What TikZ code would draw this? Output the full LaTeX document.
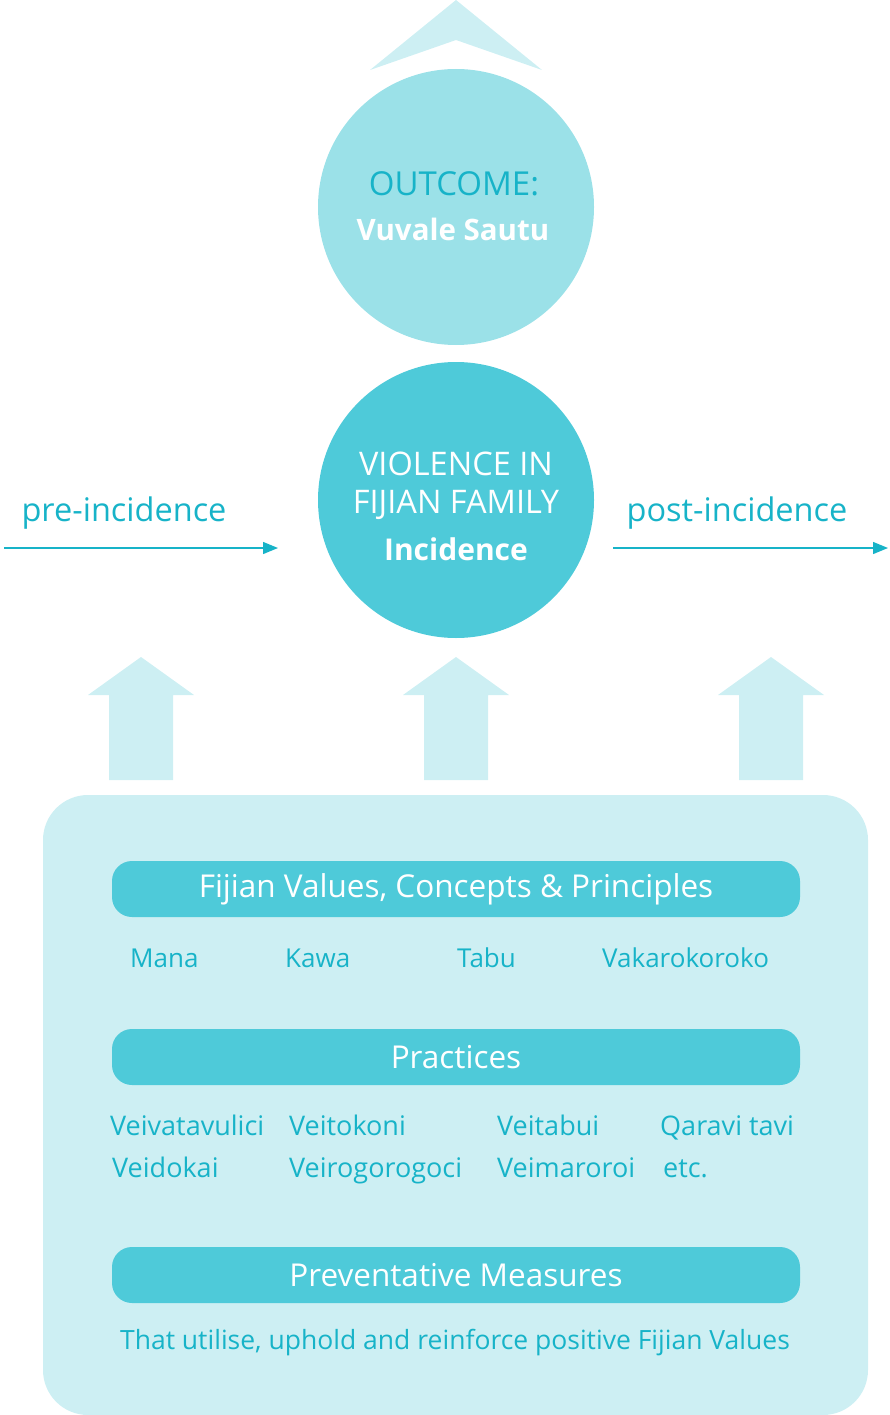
\documentclass[tikz,border=0pt]{standalone}
\usepackage{fontspec}
\setmainfont{Open Sans}
\usetikzlibrary{arrows.meta,positioning}
\definecolor{teal}{HTML}{17B3C8}
\definecolor{midblue}{HTML}{4ECAD9}
\definecolor{paleblue}{HTML}{9BE1E8}
\definecolor{lightblue}{HTML}{CDEFF3}

\begin{document}
\begin{tikzpicture}[x=1pt,y=-1pt,>={Triangle[length=15pt,width=12pt]}]
	\tikzset{every node/.style={font=\fontsize{27}{32}\selectfont}}
	\tikzset{bigcircle/.style={circle,minimum size=276pt,inner sep=0pt,align=center}}
	\tikzset{bar/.style={fill=midblue,rounded corners=20pt,minimum width=688pt,minimum height=56pt,text=white,font=\fontsize{31.5}{36}\selectfont}}
	\tikzset{word/.style={text=teal,anchor=base west,inner sep=0pt}}
	\tikzset{flow/.style={->,draw=teal,line width=1.3pt}}
	\useasboundingbox (0,0) rectangle (890,1415);
	% top chevron
	\fill[lightblue] (456,0) -- (542,70) -- (456,40) -- (370,70) -- cycle;
	\node[bigcircle,fill=paleblue] (outcome) at (456,207) {};
	\node[text=teal,font=\fontsize{33}{38}\selectfont] (outtitle) at (454,184) {OUTCOME:};
	\node[text=white,font=\fontsize{29.5}{34}\selectfont\bfseries] (outname) at (453,229) {Vuvale Sautu};
	\node[bigcircle,fill=midblue] (incid) at (456,500) {};
	\node[text=white,align=center,font=\fontsize{32.5}{38}\selectfont] (viol) at (456,486) {VIOLENCE IN\\FIJIAN FAMILY};
	\node[text=white,font=\fontsize{30}{34}\selectfont\bfseries] (incname) at (456,549) {Incidence};
	% pre and post
	\node[text=teal,font=\fontsize{32.5}{38}\selectfont] (pre) at (124,513) {pre-incidence};
	\node[text=teal,font=\fontsize{32.5}{38}\selectfont] (post) at (737,513) {post-incidence};
	\coordinate (preA) at (4,548);
	\coordinate (preB) at (278,548);
	\coordinate (postA) at (613,548);
	\coordinate (postB) at (888,548);
	\draw[flow] (preA) -- (preB);
	\draw[flow] (postA) -- (postB);
	% up arrows
	\foreach \cx in {141,456,771}
		\fill[lightblue] (\cx-32,780) -- (\cx-32,695) -- (\cx-53,695) -- (\cx,657) -- (\cx+53,695) -- (\cx+32,695) -- (\cx+32,780) -- cycle;
	% box
	\fill[lightblue,rounded corners=45pt] (43,795) rectangle (868,1415);
	\node[bar] (values) at (456,889) {Fijian Values, Concepts \& Principles};
	\node[word,font=\fontsize{26}{30}\selectfont] (mana) at (130,967) {Mana};
	\node[word,font=\fontsize{26}{30}\selectfont] (kawa) at (285,967) {Kawa};
	\node[word,font=\fontsize{26}{30}\selectfont] (tabu) at (457,967) {Tabu};
	\node[word,font=\fontsize{26}{30}\selectfont] (vaka) at (602,967) {Vakarokoroko};
	\node[bar] (pract) at (456,1057) {Practices};
	\node[word] (p1) at (110,1135) {Veivatavulici};
	\node[word] (p2) at (289,1135) {Veitokoni};
	\node[word] (p3) at (497,1135) {Veitabui};
	\node[word] (p4) at (660,1135) {Qaravi tavi};
	\node[word] (p5) at (112,1177) {Veidokai};
	\node[word] (p6) at (289,1177) {Veirogorogoci};
	\node[word] (p7) at (497,1177) {Veimaroroi};
	\node[word] (p8) at (663,1177) {etc.};
	\node[bar] (prev) at (456,1275) {Preventative Measures};
	\node[text=teal,font=\fontsize{26.5}{30}\selectfont] (util) at (455,1343) {That utilise, uphold and reinforce positive Fijian Values};
\end{tikzpicture}
\end{document}
